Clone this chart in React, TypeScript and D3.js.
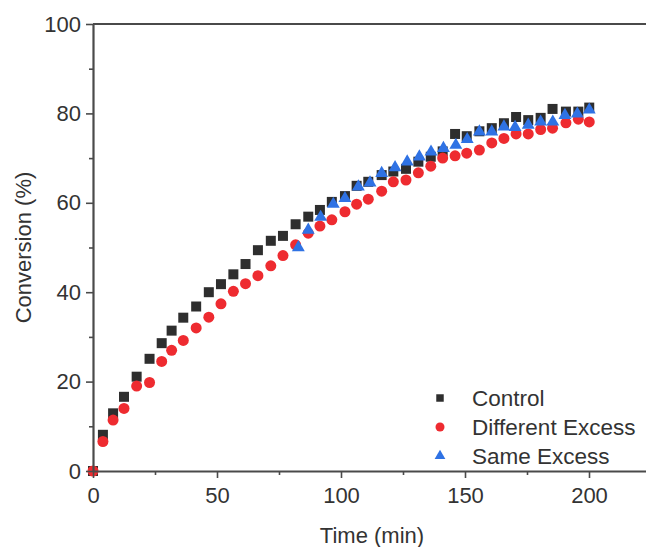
import React, { useRef, useEffect } from "react";
import * as d3 from "d3";

// time grid (min) shared by Control and Different Excess
const times = [
  0, 4.0, 8.1, 12.5, 17.6, 22.8, 27.7, 31.7, 36.4, 41.6, 46.7, 51.6, 56.6, 61.5,
  66.5, 71.7, 76.6, 81.7, 86.8, 91.5, 96.3, 101.6, 106.3, 111.0, 116.4, 121.1,
  126.2, 131.2, 136.2, 141.0, 146.0, 150.7, 155.8, 160.8, 165.7, 170.6, 175.5,
  180.5, 185.3, 190.7, 195.7, 200.1,
];

const control = [
  0, 8.1, 12.9, 16.6, 21.1, 25.1, 28.6, 31.4, 34.3, 36.8, 40.0, 41.8, 44.0, 46.3,
  49.4, 51.5, 52.6, 55.2, 56.9, 58.4, 60.2, 61.5, 63.8, 64.7, 66.2, 67.0, 67.6,
  69.2, 70.3, 71.5, 75.4, 74.9, 76.0, 76.7, 77.8, 79.2, 78.5, 79.0, 81.0, 80.4,
  80.4, 81.3,
];

const differentExcess = [
  0, 6.6, 11.4, 14.0, 19.0, 19.8, 24.5, 27.0, 29.2, 32.0, 34.4, 37.4, 40.2, 41.9,
  43.7, 45.9, 48.2, 50.6, 53.2, 54.8, 56.2, 58.0, 59.7, 60.8, 62.6, 64.7, 65.1,
  66.7, 68.2, 70.0, 70.5, 71.1, 71.8, 73.4, 74.4, 75.4, 75.4, 76.4, 76.7, 77.9,
  78.7, 78.1,
];

const sameTimes = [
  82.8, 86.8, 91.8, 96.9, 101.6, 107.0, 111.7, 116.4, 121.8, 126.7, 131.6, 136.3,
  141.3, 146.3, 150.9, 155.8, 160.8, 165.7, 170.2, 175.5, 180.5, 185.4, 190.3,
  195.3, 200.1,
];

const sameExcess = [
  50.0, 53.9, 56.8, 59.7, 61.0, 63.6, 64.5, 66.6, 67.9, 69.2, 70.3, 71.4, 72.2,
  72.9, 74.2, 75.9, 75.9, 77.0, 76.9, 77.4, 78.1, 78.1, 79.6, 79.9, 80.8,
];

const xTicks = [0, 50, 100, 150, 200];
const xMinor = [25, 75, 125, 175, 225];
const yTicks = [0, 20, 40, 60, 80, 100];
const yMinor = [10, 30, 50, 70, 90];

const seriesNames = ["Control", "Different Excess", "Same Excess"];

const Chart = () => {
  const ref = useRef<SVGSVGElement>(null);

  useEffect(() => {
    const W = 646;
    const H = 547;
    const m = { left: 93, top: 24, right: -5, bottom: 76 };
    const axisColor = "#4a4a4a";
    const textColor = "#333";
    const font = "'Liberation Sans', Arial, sans-serif";
    const colors = ["#2e2e2e", "#ee2b30", "#2f72e4"];

    const svg = d3.select(ref.current);
    svg.selectAll("*").remove();
    svg.attr("width", W).attr("height", H);

    const x = d3.scaleLinear().domain([0, 225]).range([m.left, W - m.right]);
    const y = d3.scaleLinear().domain([0, 100]).range([H - m.bottom, m.top]);

    const syms = [
      d3.symbol().type(d3.symbolSquare).size(100),
      d3.symbol().type(d3.symbolCircle).size(95),
      d3.symbol().type(d3.symbolTriangle).size(72),
    ];

    const data = [
      times.map((t, i) => [t, control[i]]),
      times.map((t, i) => [t, differentExcess[i]]),
      sameTimes.map((t, i) => [t, sameExcess[i]]),
    ];

    // markers: control under circles, triangles on top
    data.forEach((pts, si) => {
      svg
        .append("g")
        .selectAll("path")
        .data(pts)
        .enter()
        .append("path")
        .attr("d", syms[si]())
        .attr("transform", (d) => `translate(${x(d[0])},${y(d[1])})`)
        .attr("fill", colors[si]);
    });

    // axes
    const xAxis = svg
      .append("g")
      .attr("transform", `translate(0,${y(0)})`)
      .call(
        d3.axisBottom(x).tickValues(xTicks).tickSize(7).tickSizeOuter(0).tickPadding(9)
      );
    svg
      .append("g")
      .attr("transform", `translate(0,${y(0)})`)
      .call(d3.axisBottom(x).tickValues(xMinor).tickSize(4).tickFormat(() => "").tickSizeOuter(0))
      .select(".domain")
      .remove();

    const yAxis = svg
      .append("g")
      .attr("transform", `translate(${x(0)},0)`)
      .call(
        d3.axisLeft(y).tickValues(yTicks).tickSize(7).tickSizeOuter(0).tickPadding(5)
      );
    svg
      .append("g")
      .attr("transform", `translate(${x(0)},0)`)
      .call(d3.axisLeft(y).tickValues(yMinor).tickSize(4).tickFormat(() => "").tickSizeOuter(0))
      .select(".domain")
      .remove();

    svg.selectAll(".domain").attr("stroke", axisColor).attr("stroke-width", 2.2);
    svg.selectAll(".tick line").attr("stroke", axisColor).attr("stroke-width", 1.6);
    [xAxis, yAxis].forEach((a) =>
      a
        .selectAll("text")
        .attr("fill", textColor)
        .style("font-family", font)
        .style("font-size", "22px")
    );

    // top frame line
    svg
      .append("line")
      .attr("x1", x(0))
      .attr("x2", x(225))
      .attr("y1", y(100))
      .attr("y2", y(100))
      .attr("stroke", axisColor)
      .attr("stroke-width", 2.2);

    // axis titles
    svg
      .append("text")
      .text("Time (min)")
      .attr("x", (x(0) + x(225)) / 2)
      .attr("y", 543)
      .attr("text-anchor", "middle")
      .attr("fill", textColor)
      .style("font-family", font)
      .style("font-size", "22px");

    svg
      .append("text")
      .text("Conversion (%)")
      .attr("transform", `translate(31,${(y(0) + y(100)) / 2}) rotate(-90)`)
      .attr("text-anchor", "middle")
      .attr("fill", textColor)
      .style("font-family", font)
      .style("font-size", "22px");

    // legend
    const legend = svg
      .append("g")
      .selectAll("g")
      .data(seriesNames)
      .enter()
      .append("g")
      .attr("transform", (d, i) => `translate(440,${398 + i * 29})`);

    legend
      .append("path")
      .attr("d", (d, i) =>
        d3.symbol().type([d3.symbolSquare, d3.symbolCircle, d3.symbolTriangle][i]).size([56, 64, 50][i])()
      )
      .attr("fill", (d, i) => colors[i]);

    legend
      .append("text")
      .text((d) => d)
      .attr("x", 32)
      .attr("y", 8)
      .attr("fill", textColor)
      .style("font-family", font)
      .style("font-size", "22.5px");
  }, []);

  return <svg ref={ref} style={{ position: "absolute", left: 0, top: 0 }}></svg>;
};

export default function App() {
  return <Chart />;
}
